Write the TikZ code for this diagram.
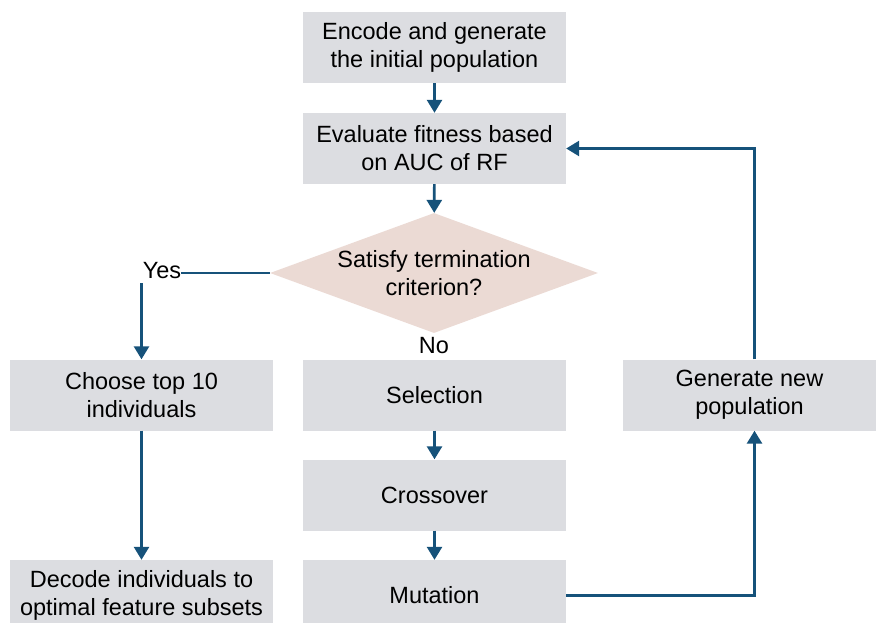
\documentclass[tikz,border=0pt]{standalone}
\usepackage{fontspec}
\setmainfont{Liberation Sans}
\usetikzlibrary{arrows.meta,shapes.geometric}
\definecolor{boxgray}{RGB}{220,221,225}
\definecolor{diapink}{RGB}{235,218,212}
\definecolor{flowblue}{RGB}{22,82,122}
\tikzset{
    >={Triangle[length=13pt,width=15pt]},
    flow/.style={
        stage/.append style={align=center,fill=boxgray,minimum width=263pt,minimum height=71pt,inner sep=0pt,font=\fontsize{23.5}{28}\selectfont},
        check/.append style={align=center,diamond,fill=diapink,aspect=2.73,minimum width=328pt,minimum height=120pt,inner sep=0pt,font=\fontsize{23.5}{28}\selectfont},
        tag/.append style={inner sep=0pt,font=\fontsize{23.5}{28}\selectfont},
        link/.append style={draw=flowblue,line width=2.7pt},
        every edge/.append style={link}
    }
}

\begin{document}
\begin{tikzpicture}[flow,x=1pt,y=1pt]
    \useasboundingbox (0,0) rectangle (876,-623);
    \node[stage] (enc) at (434.5, -47.5) {Encode and generate\\the initial population};
    \node[stage] (eval) at (434.5, -148.5) {Evaluate fitness based\\on AUC of RF};
    \node[check] (term) at (434, -273) {Satisfy termination\\criterion?};
    \node[stage] (sel) at (434.5, -395) {Selection};
    \node[stage] (cross) at (434.5, -495) {Crossover};
    \node[stage] (mut) at (434.5, -595.5) {Mutation};
    \node[stage] (top) at (141.5, -395) {Choose top 10\\individuals};
    \node[stage] (dec) at (141.5, -595.5) {Decode individuals to\\optimal feature subsets};
    \node[stage,minimum width=253pt] (gen) at (749.5, -395) {Generate new\\population};

    \node[tag] (yes) at (162, -271) {Yes};
    \node[tag] (no) at (434, -346) {No};

    \path[->] (enc) edge (eval)
              (eval) edge (term)
              (sel) edge (cross)
              (cross) edge (mut)
              (top) edge (dec);
    \path (term.west) edge (term.west -| yes.east);
    \draw[link,->] (top.north |- yes.south) ++(0,-4) -- (top.north);
    \draw[link,->] (mut.east) -| ([xshift=5pt]gen.south);
    \draw[link,->] ([xshift=5pt]gen.north) |- (eval.east);
\end{tikzpicture}
\end{document}
